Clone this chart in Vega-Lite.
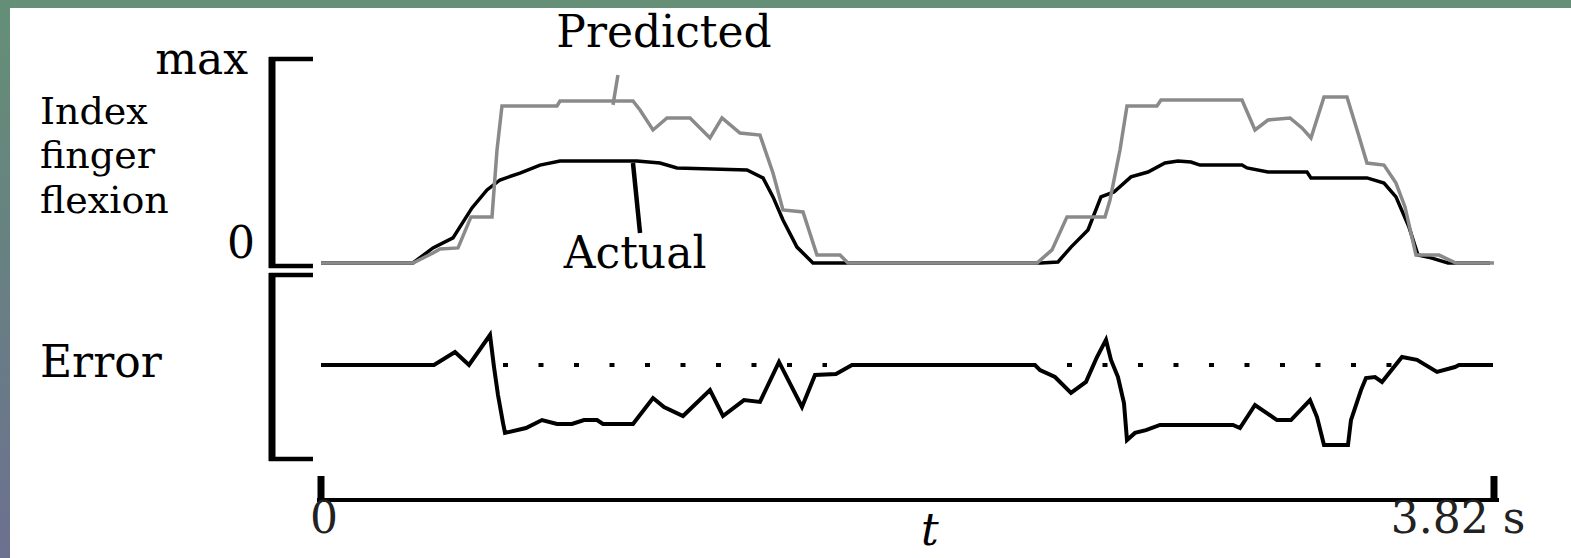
{
  "$schema": "https://vega.github.io/schema/vega-lite/v6.json",
  "width": 1561,
  "height": 550,
  "autosize": {"type": "none"},
  "padding": {"left": 10, "top": 8, "right": 0, "bottom": 0},
  "background": "#658f76",
  "view": {"fill": "white", "stroke": null},
  "config": {"text": {"font": "DejaVu Serif", "fontSize": 44, "color": "#000"}},
  "datasets": {
    "flexion": [
      {"series":"Predicted","t":0,"f":0},{"series":"Predicted","t":0.2996,"f":0},{"series":"Predicted","t":0.3647,"f":0.049},{"series":"Predicted","t":0.3875,"f":0.069},{"series":"Predicted","t":0.4462,"f":0.074},{"series":"Predicted","t":0.4885,"f":0.226},{"series":"Predicted","t":0.5569,"f":0.226},{"series":"Predicted","t":0.5732,"f":0.554},{"series":"Predicted","t":0.5894,"f":0.77},{"series":"Predicted","t":0.7686,"f":0.77},{"series":"Predicted","t":0.7783,"f":0.794},{"series":"Predicted","t":1.0161,"f":0.794},{"series":"Predicted","t":1.0389,"f":0.75},{"series":"Predicted","t":1.0812,"f":0.652},{"series":"Predicted","t":1.1268,"f":0.711},{"series":"Predicted","t":1.2017,"f":0.711},{"series":"Predicted","t":1.2668,"f":0.613},{"series":"Predicted","t":1.3059,"f":0.711},{"series":"Predicted","t":1.3645,"f":0.637},{"series":"Predicted","t":1.4296,"f":0.627},{"series":"Predicted","t":1.472,"f":0.441},{"series":"Predicted","t":1.5045,"f":0.26},{"series":"Predicted","t":1.5697,"f":0.25},{"series":"Predicted","t":1.6153,"f":0.039},{"series":"Predicted","t":1.6902,"f":0.039},{"series":"Predicted","t":1.7162,"f":0},{"series":"Predicted","t":2.3317,"f":0},{"series":"Predicted","t":2.3806,"f":0.064},{"series":"Predicted","t":2.4294,"f":0.226},{"series":"Predicted","t":2.5532,"f":0.226},{"series":"Predicted","t":2.5695,"f":0.309},{"series":"Predicted","t":2.602,"f":0.554},{"series":"Predicted","t":2.6248,"f":0.77},{"series":"Predicted","t":2.7225,"f":0.77},{"series":"Predicted","t":2.7355,"f":0.799},{"series":"Predicted","t":2.9993,"f":0.799},{"series":"Predicted","t":3.0417,"f":0.652},{"series":"Predicted","t":3.084,"f":0.701},{"series":"Predicted","t":3.1557,"f":0.711},{"series":"Predicted","t":3.1947,"f":0.662},{"series":"Predicted","t":3.224,"f":0.613},{"series":"Predicted","t":3.2664,"f":0.814},{"series":"Predicted","t":3.3413,"f":0.814},{"series":"Predicted","t":3.3771,"f":0.637},{"series":"Predicted","t":3.4064,"f":0.49},{"series":"Predicted","t":3.4618,"f":0.48},{"series":"Predicted","t":3.5008,"f":0.392},{"series":"Predicted","t":3.5302,"f":0.275},{"series":"Predicted","t":3.566,"f":0.039},{"series":"Predicted","t":3.6409,"f":0.039},{"series":"Predicted","t":3.6962,"f":0},{"series":"Predicted","t":3.82,"f":0},
      {"series":"Actual","t":0,"f":0},{"series":"Actual","t":0.2996,"f":0},{"series":"Actual","t":0.3647,"f":0.074},{"series":"Actual","t":0.4299,"f":0.123},{"series":"Actual","t":0.4917,"f":0.27},{"series":"Actual","t":0.5406,"f":0.358},{"series":"Actual","t":0.5829,"f":0.407},{"series":"Actual","t":0.6481,"f":0.441},{"series":"Actual","t":0.7132,"f":0.48},{"series":"Actual","t":0.7783,"f":0.5},{"series":"Actual","t":1.0291,"f":0.5},{"series":"Actual","t":1.104,"f":0.49},{"series":"Actual","t":1.1593,"f":0.466},{"series":"Actual","t":1.3873,"f":0.456},{"series":"Actual","t":1.4394,"f":0.417},{"series":"Actual","t":1.472,"f":0.324},{"series":"Actual","t":1.5045,"f":0.211},{"series":"Actual","t":1.5501,"f":0.078},{"series":"Actual","t":1.6022,"f":0},{"series":"Actual","t":2.3448,"f":0},{"series":"Actual","t":2.4001,"f":0.005},{"series":"Actual","t":2.4425,"f":0.078},{"series":"Actual","t":2.4978,"f":0.162},{"series":"Actual","t":2.5401,"f":0.324},{"series":"Actual","t":2.5825,"f":0.348},{"series":"Actual","t":2.6378,"f":0.422},{"series":"Actual","t":2.6932,"f":0.446},{"series":"Actual","t":2.7486,"f":0.49},{"series":"Actual","t":2.7909,"f":0.5},{"series":"Actual","t":2.8332,"f":0.495},{"series":"Actual","t":2.8625,"f":0.48},{"series":"Actual","t":2.9993,"f":0.48},{"series":"Actual","t":3.0156,"f":0.466},{"series":"Actual","t":3.084,"f":0.446},{"series":"Actual","t":3.211,"f":0.446},{"series":"Actual","t":3.224,"f":0.417},{"series":"Actual","t":3.4064,"f":0.417},{"series":"Actual","t":3.4618,"f":0.392},{"series":"Actual","t":3.5008,"f":0.324},{"series":"Actual","t":3.5432,"f":0.176},{"series":"Actual","t":3.5725,"f":0.039},{"series":"Actual","t":3.6148,"f":0.025},{"series":"Actual","t":3.6702,"f":0},{"series":"Actual","t":3.8069,"f":0}
    ],
    "error": [
      {"t":0,"e":0},{"t":0.368,"e":0},{"t":0.4364,"e":0.064},{"t":0.482,"e":0},{"t":0.5504,"e":0.147},{"t":0.5634,"e":-0.01},{"t":0.5764,"e":-0.147},{"t":0.5927,"e":-0.284},{"t":0.5992,"e":-0.333},{"t":0.6676,"e":-0.309},{"t":0.7197,"e":-0.27},{"t":0.7686,"e":-0.289},{"t":0.8174,"e":-0.289},{"t":0.8565,"e":-0.27},{"t":0.8988,"e":-0.27},{"t":0.9184,"e":-0.289},{"t":1.0161,"e":-0.289},{"t":1.0812,"e":-0.162},{"t":1.117,"e":-0.206},{"t":1.1789,"e":-0.25},{"t":1.2668,"e":-0.123},{"t":1.3092,"e":-0.25},{"t":1.3775,"e":-0.172},{"t":1.4296,"e":-0.181},{"t":1.4915,"e":0.015},{"t":1.5664,"e":-0.206},{"t":1.6088,"e":-0.049},{"t":1.6771,"e":-0.044},{"t":1.7293,"e":0},
      {"t":2.3252,"e":0},{"t":2.3415,"e":-0.025},{"t":2.3903,"e":-0.059},{"t":2.4425,"e":-0.137},{"t":2.4913,"e":-0.083},{"t":2.5271,"e":0.039},{"t":2.5564,"e":0.123},{"t":2.5727,"e":0.025},{"t":2.5955,"e":-0.059},{"t":2.615,"e":-0.186},{"t":2.6248,"e":-0.368},{"t":2.6509,"e":-0.333},{"t":2.6867,"e":-0.319},{"t":2.7323,"e":-0.294},{"t":2.97,"e":-0.294},{"t":2.9928,"e":-0.309},{"t":3.0417,"e":-0.196},{"t":3.1133,"e":-0.27},{"t":3.1589,"e":-0.27},{"t":3.2208,"e":-0.172},{"t":3.2436,"e":-0.255},{"t":3.2664,"e":-0.392},{"t":3.3445,"e":-0.392},{"t":3.3543,"e":-0.27},{"t":3.3869,"e":-0.123},{"t":3.4031,"e":-0.064},{"t":3.4325,"e":-0.059},{"t":3.4553,"e":-0.083},{"t":3.4813,"e":-0.034},{"t":3.5204,"e":0.039},{"t":3.5692,"e":0.025},{"t":3.6344,"e":-0.034},{"t":3.693,"e":-0.01},{"t":3.706,"e":0},{"t":3.8167,"e":0}
    ]
  },
  "encoding": {
    "x": {"field": "t", "type": "quantitative", "scale": {"domain": [-1.0128, 4.0708], "nice": false, "zero": false}, "axis": null}
  },
  "layer": [
    {
      "encoding": {
        "y": {"field": "f", "type": "quantitative", "scale": {"domain": [-1.44608, 1.25], "nice": false, "zero": false}, "axis": null}
      },
      "layer": [
        {
          "data": {"values": [{"t": -1.0454, "t2": -1.0128, "f": 1.29, "f2": -1.45}]},
          "mark": {"type": "rect", "fill": {"gradient": "linear", "x1": 0, "y1": 0, "x2": 0, "y2": 1, "stops": [{"offset": 0, "color": "#648f76"}, {"offset": 1, "color": "#6c7090"}]}},
          "encoding": {"x2": {"field": "t2"}, "y2": {"field": "f2"}}
        },
        {
          "data": {"values": [{"t": -0.1596, "f": 1.0098, "f2": -0.0245}]},
          "mark": {"type": "rule", "color": "#000", "strokeWidth": 7},
          "encoding": {"y2": {"field": "f2"}}
        },
        {
          "data": {"values": [{"t": -0.1693, "t2": -0.0261, "f": 1.0}, {"t": -0.1693, "t2": -0.0261, "f": -0.0147}]},
          "mark": {"type": "rule", "color": "#000", "strokeWidth": 4.5},
          "encoding": {"x2": {"field": "t2"}}
        },
        {
          "data": {"values": [{"label": "max", "t": -0.2377, "f": 0.926}, {"label": "0", "t": -0.2149, "f": 0.0245}]},
          "mark": {"type": "text", "align": "right", "baseline": "alphabetic"},
          "encoding": {"text": {"field": "label"}}
        },
        {
          "data": {"values": [{"label": "Index\nfinger\nflexion", "t": -0.9151, "f": 0.6814}]},
          "mark": {"type": "text", "align": "left", "baseline": "alphabetic", "lineBreak": "\n", "fontSize": 38, "lineHeight": 44.5},
          "encoding": {"text": {"field": "label"}}
        },
        {
          "data": {"values": [{"label": "Predicted", "t": 1.117, "f": 1.059}, {"label": "Actual", "t": 1.023, "f": -0.0245}]},
          "mark": {"type": "text", "align": "center", "baseline": "alphabetic"},
          "encoding": {"text": {"field": "label"}}
        },
        {
          "data": {"name": "flexion"},
          "transform": [{"filter": "datum.series === 'Actual'"}],
          "mark": {"type": "line", "strokeWidth": 3.5},
          "encoding": {"color": {"field": "series", "type": "nominal", "scale": {"domain": ["Actual", "Predicted"], "range": ["#000000", "#8a8a8a"]}, "legend": null}}
        },
        {
          "data": {"name": "flexion"},
          "transform": [{"filter": "datum.series === 'Predicted'"}],
          "mark": {"type": "line", "strokeWidth": 3.5},
          "encoding": {"color": {"field": "series", "type": "nominal", "scale": {"domain": ["Actual", "Predicted"], "range": ["#000000", "#8a8a8a"]}, "legend": null}}
        },
        {
          "data": {"values": [{"t": 0.967, "t2": 0.951, "f": 0.922, "f2": 0.775}]},
          "mark": {"type": "rule", "color": "#8a8a8a", "strokeWidth": 3.5},
          "encoding": {"x2": {"field": "t2"}, "y2": {"field": "f2"}}
        },
        {
          "data": {"values": [{"t": 1.016, "t2": 1.039, "f": 0.49, "f2": 0.147}]},
          "mark": {"type": "rule", "color": "#000", "strokeWidth": 4.5},
          "encoding": {"x2": {"field": "t2"}, "y2": {"field": "f2"}}
        }
      ]
    },
    {
      "encoding": {
        "y": {"field": "e", "type": "quantitative", "scale": {"domain": [-0.94608, 1.75], "nice": false, "zero": false}, "axis": null}
      },
      "layer": [
        {
          "data": {"values": [{"t": -0.1596, "e": 0.451, "e2": -0.4706}, {"t": 0, "e": -0.5441, "e2": -0.6716}, {"t": 3.82, "e": -0.5441, "e2": -0.6716}]},
          "mark": {"type": "rule", "color": "#000", "strokeWidth": 7},
          "encoding": {"y2": {"field": "e2"}}
        },
        {
          "data": {"values": [{"t": -0.1693, "t2": -0.0261, "e": 0.4412}, {"t": -0.1693, "t2": -0.0261, "e": -0.4608}]},
          "mark": {"type": "rule", "color": "#000", "strokeWidth": 4.5},
          "encoding": {"x2": {"field": "t2"}}
        },
        {
          "data": {"values": [{"t": -0.013, "t2": 3.8363, "e": -0.6618}]},
          "mark": {"type": "rule", "color": "#000", "strokeWidth": 4},
          "encoding": {"x2": {"field": "t2"}}
        },
        {
          "data": {"values": [{"t": 0.5927, "t2": 1.6478, "e": 0}, {"t": 2.4294, "t2": 3.4943, "e": 0}]},
          "mark": {"type": "rule", "color": "#000", "strokeWidth": 4, "strokeDash": [5, 30.5]},
          "encoding": {"x2": {"field": "t2"}}
        },
        {
          "data": {"values": [{"label": "Error", "t": -0.9151, "e": -0.0588}]},
          "mark": {"type": "text", "align": "left", "baseline": "alphabetic"},
          "encoding": {"text": {"field": "label"}}
        },
        {
          "data": {"values": [{"label": "0", "t": 0.0098, "e": -0.8235}, {"label": "3.82 s", "t": 3.7028, "e": -0.8235}]},
          "mark": {"type": "text", "align": "center", "baseline": "alphabetic", "color": "#222"},
          "encoding": {"text": {"field": "label"}}
        },
        {
          "data": {"values": [{"label": "t", "t": 1.983, "e": -0.8824}]},
          "mark": {"type": "text", "align": "center", "baseline": "alphabetic", "fontStyle": "italic"},
          "encoding": {"text": {"field": "label"}}
        },
        {
          "data": {"name": "error"},
          "mark": {"type": "line", "color": "#000", "strokeWidth": 4}
        }
      ]
    }
  ],
  "resolve": {"scale": {"y": "independent"}}
}
